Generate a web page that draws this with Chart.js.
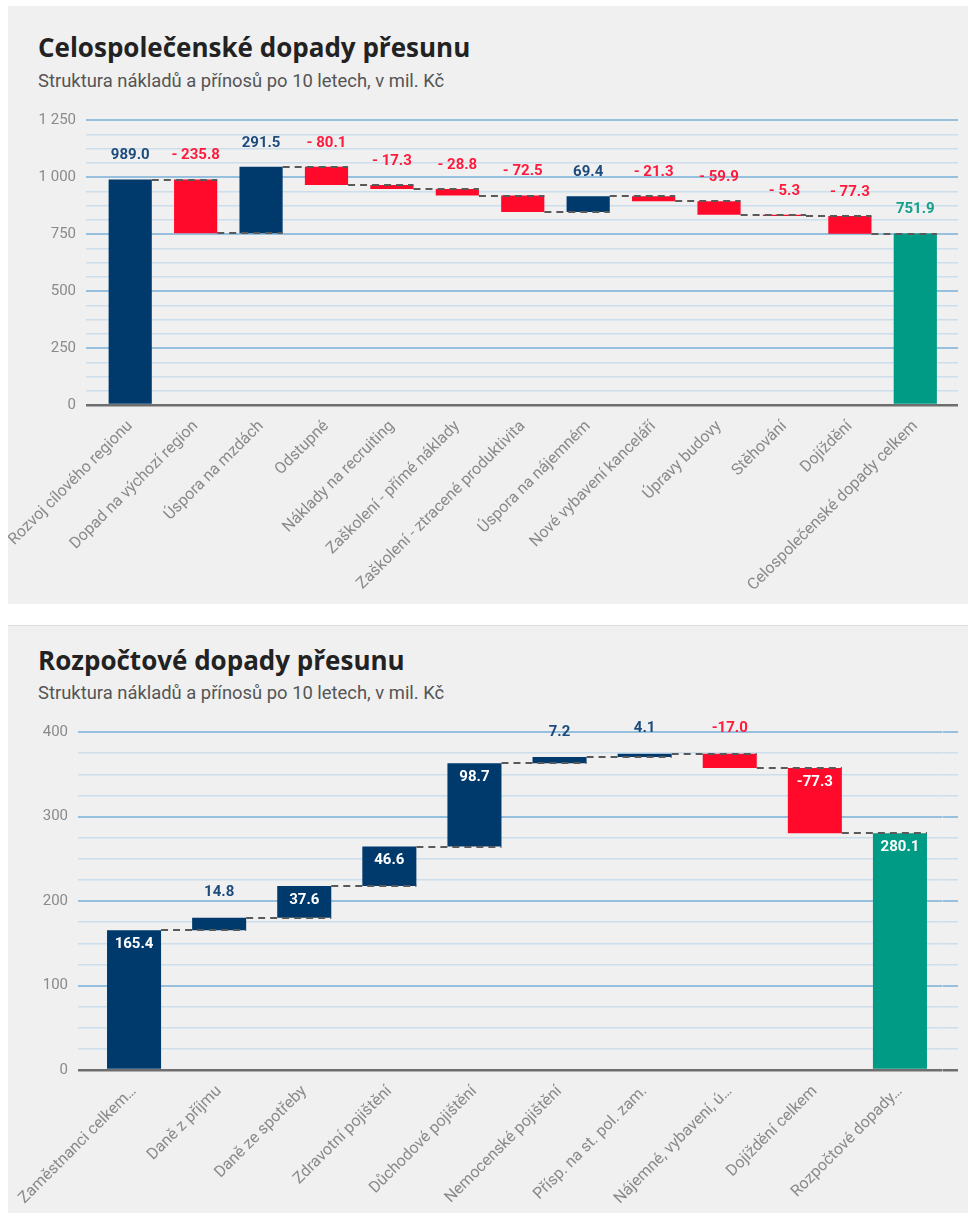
<!DOCTYPE html>
<html lang="cs">
<head>
<meta charset="utf-8">
<title>Dopady přesunu</title>
<script src="https://cdn.jsdelivr.net/npm/chart.js@4.4.1/dist/chart.umd.min.js"></script>
<style>
  html, body { margin: 0; padding: 0; background: #fff; }
  body { width: 974px; height: 1216px; position: relative; font-family: Roboto, "Noto Sans", sans-serif; }
  .panel { position: absolute; left: 8px; width: 960px; background: #f0f0f0; }
  #p1 { top: 6px; height: 598px; }
  #p2 { top: 625px; height: 587px; border-top: 1px solid #dcdcdc; }
  .title { position: absolute; left: 30px; margin: 0; font-family: "Open Sans", Roboto, sans-serif; font-size: 26px; font-weight: 700; line-height: 30px; color: #222; white-space: nowrap; }
  .sub { position: absolute; left: 30px; margin: 0; font-size: 18.4px; font-weight: 400; line-height: 22px; color: #555; white-space: nowrap; }
  canvas { position: absolute; left: 0; }
</style>
</head>
<body>
<div class="panel" id="p1">
  <h1 class="title" style="top:26px">Celospolečenské dopady přesunu</h1>
  <p class="sub" style="top:64px">Struktura nákladů a přínosů po 10 letech, v mil. Kč</p>
  <canvas id="c1" width="960" height="500" style="top:94px"></canvas>
</div>
<div class="panel" id="p2">
  <h1 class="title" style="top:19px">Rozpočtové dopady přesunu</h1>
  <p class="sub" style="top:56px">Struktura nákladů a přínosů po 10 letech, v mil. Kč</p>
  <canvas id="c2" width="960" height="500" style="top:84px"></canvas>
</div>
<script>
// celospolečenské dopady (mil. Kč), poslední položka = celkem
const socCategories = [
  'Rozvoj cílového regionu', 'Dopad na výchozí region', 'Úspora na mzdách', 'Odstupné',
  'Náklady na recruiting', 'Zaškolení - přímé náklady', 'Zaškolení - ztracené produktivita',
  'Úspora na nájemném', 'Nové vybavení kanceláří', 'Úpravy budovy', 'Stěhování', 'Dojíždění',
  'Celospolečenské dopady celkem'
];
const socValues = [989.0, -235.8, 291.5, -80.1, -17.3, -28.8, -72.5, 69.4, -21.3, -59.9, -5.3, -77.3, 751.9];
const socTicks = [0, 250, 500, 750, 1000, 1250];

// rozpočtové dopady (mil. Kč), poslední položka = celkem
const budCategories = [
  'Zaměstnanci celkem…', 'Daně z příjmu', 'Daně ze spotřeby', 'Zdravotní pojištění',
  'Důchodové pojištění', 'Nemocenské pojištění', 'Přísp. na st. pol. zam.',
  'Nájemné, vybavení, ú…', 'Dojíždění celkem', 'Rozpočtové dopady…'
];
const budValues = [165.4, 14.8, 37.6, 46.6, 98.7, 7.2, 4.1, -17.0, -77.3, 280.1];
const budTicks = [0, 100, 200, 300, 400];

const NAVY = '#003a6d';
const RED = '#ff0a2b';
const GREEN = '#009b85';

Chart.defaults.font.family = 'Roboto, "Noto Sans", sans-serif';

function waterfall(values) {
  let run = 0;
  const bars = [], levels = [];
  values.forEach((v, i) => {
    if (i === values.length - 1) {
      bars.push([0, v]);
      run = v;
    } else {
      bars.push([run, run + v]);
      run += v;
    }
    levels.push(run);
  });
  return { bars, levels };
}

function czNum(v) {
  if (v >= 1000) return Math.floor(v / 1000) + ' ' + String(v % 1000).padStart(3, '0');
  return String(v);
}

// přerušované spojnice mezi sloupci
const connectors = {
  id: 'connectors',
  afterDatasetsDraw(chart, args, opts) {
    const meta = chart.getDatasetMeta(0);
    const y = chart.scales.y;
    const ctx = chart.ctx;
    ctx.save();
    ctx.strokeStyle = '#5a5a5a';
    ctx.lineWidth = 2;
    ctx.setLineDash([7, 5]);
    for (let i = 0; i < meta.data.length - 1; i++) {
      const a = meta.data[i], b = meta.data[i + 1];
      const py = Math.round(y.getPixelForValue(opts.levels[i]));
      ctx.beginPath();
      ctx.moveTo(a.x + a.width / 2, py);
      ctx.lineTo(b.x + b.width / 2, py);
      ctx.stroke();
    }
    ctx.restore();
  }
};

// popisky hodnot
const barLabels = {
  id: 'barLabels',
  afterDatasetsDraw(chart, args, opts) {
    const meta = chart.getDatasetMeta(0);
    const ctx = chart.ctx;
    ctx.save();
    ctx.font = 'bold 15px Roboto, "Noto Sans", sans-serif';
    ctx.textAlign = 'center';
    ctx.textBaseline = 'middle';
    meta.data.forEach((el, i) => {
      const v = opts.values[i];
      const last = i === opts.values.length - 1;
      const top = Math.min(el.y, el.base);
      let color = last ? opts.totalColor : (v < 0 ? opts.negColor : opts.posColor);
      let y = top - opts.above;
      if (opts.insideMin && Math.abs(v) >= opts.insideMin) {
        color = '#fff';
        y = top + opts.below;
      }
      ctx.fillStyle = color;
      ctx.fillText(opts.format(v), el.x, y);
    });
    ctx.restore();
  }
};

function gridColor(ticks) {
  return ctx => {
    const v = ctx.tick.value;
    if (v === 0) return '#6e6e6e';
    return ticks.includes(v) ? 'rgba(120,176,216,0.75)' : 'rgba(160,200,230,0.45)';
  };
}
function gridWidth(ticks) {
  return ctx => {
    const v = ctx.tick.value;
    if (v === 0) return 2.5;
    return ticks.includes(v) ? 2 : 1.5;
  };
}

function makeChart(id, cats, values, ticks, minor, geo, labelOpts) {
  const wf = waterfall(values);
  const colors = values.map((v, i) => i === values.length - 1 ? GREEN : (v < 0 ? RED : NAVY));
  const lo = ticks[0], hi = ticks[ticks.length - 1];
  return new Chart(document.getElementById(id), {
    type: 'bar',
    data: {
      labels: cats,
      datasets: [{
        data: wf.bars,
        backgroundColor: colors,
        borderWidth: 0,
        barPercentage: geo.bar,
        categoryPercentage: 1
      }]
    },
    options: {
      responsive: false,
      animation: false,
      layout: { padding: { top: geo.top, right: 10, bottom: 0, left: 0 } },
      plugins: {
        legend: { display: false },
        tooltip: { enabled: false },
        connectors: { levels: wf.levels },
        barLabels: Object.assign({ values }, labelOpts)
      },
      scales: {
        x: {
          grid: { display: false },
          border: { display: false },
          ticks: {
            color: '#8a8a8a',
            font: { size: 16 },
            minRotation: 45,
            maxRotation: 45,
            autoSkip: false,
            padding: geo.xpad
          },
          afterFit: s => {
            s.height = geo.xh;
            s.paddingLeft = 0;
            s.paddingRight = 0;
          }
        },
        y: {
          min: lo,
          max: hi,
          border: { display: false },
          grid: { color: gridColor(ticks), lineWidth: gridWidth(ticks), tickLength: geo.tickL },
          ticks: {
            stepSize: minor,
            autoSkip: false,
            color: '#8a8a8a',
            font: { size: 15 },
            padding: 10,
            callback: v => ticks.includes(v) ? czNum(v) : ''
          },
          afterFit: s => { s.width = geo.left; }
        },
        yr: {
          position: 'right',
          min: lo,
          max: hi,
          border: { display: false },
          grid: { color: gridColor(ticks), lineWidth: gridWidth(ticks), tickLength: geo.tickR, drawOnChartArea: false },
          ticks: { stepSize: minor, autoSkip: false, display: false },
          afterFit: s => { s.width = geo.tickR; }
        }
      }
    },
    plugins: [connectors, barLabels]
  });
}

makeChart('c1', socCategories, socValues, socTicks, 62.5,
  { left: 89.5, tickL: 11.5, tickR: 10, top: 20, xh: 195, bar: 0.66, xpad: 4 },
  {
    posColor: '#1d4c7c', negColor: '#ff1a3c', totalColor: '#14a08a',
    above: 24, below: 0, insideMin: 0,
    format: v => v < 0 ? '- ' + Math.abs(v).toFixed(1) : v.toFixed(1)
  });

makeChart('c2', budCategories, budValues, budTicks, 25,
  { left: 83.5, tickL: 13.5, tickR: 15.5, top: 22, xh: 140, bar: 0.635, xpad: 4 },
  {
    posColor: '#1d4c7c', negColor: '#ff1a3c', totalColor: '#14a08a',
    above: 25, below: 14, insideMin: 20,
    format: v => v.toFixed(1)
  });
</script>
</body>
</html>
